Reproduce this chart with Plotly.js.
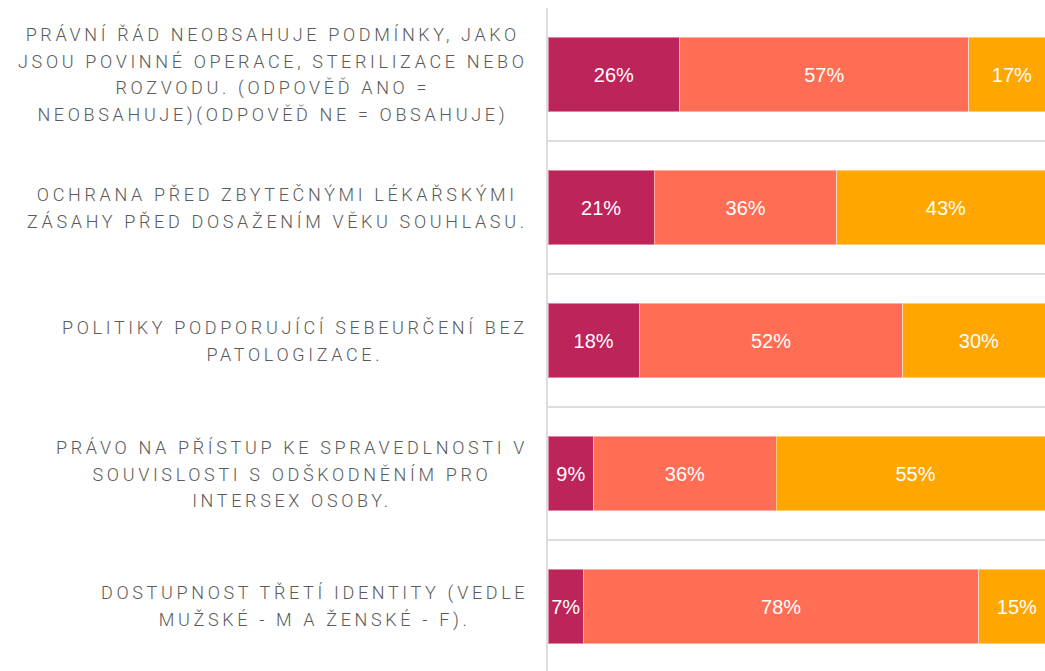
<!DOCTYPE html>
<html>
<head>
<meta charset="utf-8">
<script src="https://cdn.plot.ly/plotly-3.0.1.min.js"></script>
<style>
html, body { margin: 0; padding: 0; overflow: hidden; background: #fff; }
#chart { width: 1055px; height: 680px; }
.annotation-text { letter-spacing: 3.65px; }
</style>
</head>
<body>
<div id="chart"></div>
<script>
const categories = [
  "PRÁVNÍ ŘÁD NEOBSAHUJE PODMÍNKY, JAKO|JSOU POVINNÉ OPERACE, STERILIZACE NEBO|ROZVODU. (ODPOVĚĎ ANO =|NEOBSAHUJE)(ODPOVĚĎ NE = OBSAHUJE)",
  "OCHRANA PŘED ZBYTEČNÝMI LÉKAŘSKÝMI|ZÁSAHY PŘED DOSAŽENÍM VĚKU SOUHLASU.",
  "POLITIKY PODPORUJÍCÍ SEBEURČENÍ BEZ|PATOLOGIZACE.",
  "PRÁVO NA PŘÍSTUP KE SPRAVEDLNOSTI V|SOUVISLOSTI S ODŠKODNĚNÍM PRO|INTERSEX OSOBY.",
  "DOSTUPNOST TŘETÍ IDENTITY (VEDLE|MUŽSKÉ - M A ŽENSKÉ - F)."
];
const catKeys = ["c1", "c2", "c3", "c4", "c5"];
const series1 = [26, 21, 18, 9, 7];
const series2 = [57, 36, 52, 36, 78];
const series3 = [17, 43, 30, 55, 15];
const seriesColors = ["#BD2459", "#FF6D55", "#FFA600"];

const allSeries = [series1, series2, series3];
const traces = allSeries.map((vals, i) => ({
  type: "bar",
  orientation: "h",
  y: catKeys,
  x: vals,
  marker: { color: seriesColors[i], line: { color: "rgba(255,255,255,0.45)", width: 1 } },
  texttemplate: "%{x}%",
  textposition: "inside",
  insidetextanchor: "middle",
  textangle: 0,
  constraintext: "none",
  insidetextfont: { family: "Liberation Sans, Arial, sans-serif", size: 20, color: "#ffffff" },
  hoverinfo: "skip",
  showlegend: false
}));

const annotations = categories.map((c, i) => ({
  xref: "paper", yref: "y",
  x: 0, y: catKeys[i],
  xanchor: "right", yanchor: "middle",
  xshift: -18,
  yshift: 0,
  align: "center",
  showarrow: false,
  text: c.split("|").map(l => '<span style="font-size:18px">' + l + '</span>').join("<br>"),
  font: { family: "Roboto, sans-serif", size: 20.4, color: "#5a5a5a", weight: 300 }
}));

const layout = {
  width: 1055,
  height: 680,
  barmode: "stack",
  bargap: 0.44,
  margin: { l: 548, r: 0, t: 8, b: 7 },
  paper_bgcolor: "#ffffff",
  plot_bgcolor: "#ffffff",
  xaxis: { range: [0, 100], showgrid: false, zeroline: false, showticklabels: false, showline: false, fixedrange: true },
  yaxis: {
    type: "category",
    range: [4.5, -0.5],
    tickson: "boundaries",
    showgrid: true,
    gridcolor: "#dddddd",
    gridwidth: 2,
    showticklabels: false,
    ticks: "",
    showline: true,
    linecolor: "#dddddd",
    linewidth: 2,
    zeroline: false,
    fixedrange: true
  },
  annotations: annotations,
  hovermode: false
};

Plotly.newPlot("chart", traces, layout, { displayModeBar: false, staticPlot: true });
</script>
</body>
</html>
